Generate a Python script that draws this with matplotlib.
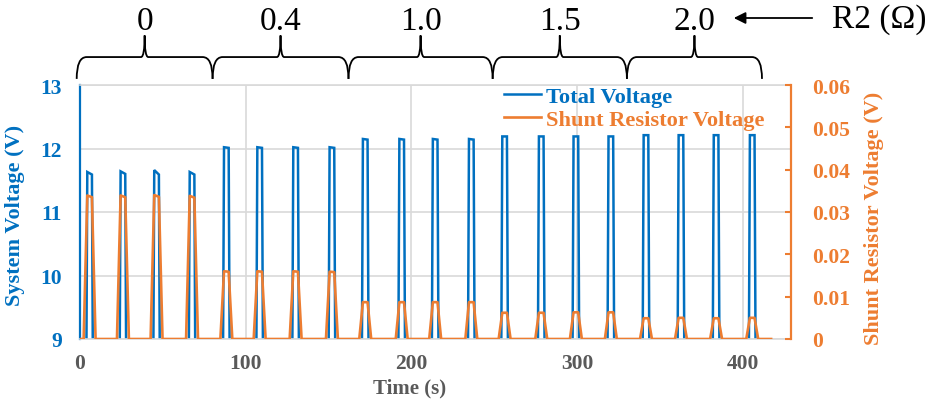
import matplotlib
matplotlib.use("Agg")
import matplotlib.pyplot as plt
from matplotlib.path import Path
from matplotlib.patches import PathPatch, FancyArrowPatch

plt.rcParams['font.family'] = ['Liberation Serif', 'DejaVu Serif']

# ---------------- data ----------------
r2_labels = ["0", "0.4", "1.0", "1.5", "2.0"]
# brace boundaries between R2 groups, in seconds
group_bounds = [-2.0, 80.0, 162.0, 249.0, 330.0, 411.5]

# start time of each pulse (s)
pulse_start = [2.2, 22.3, 42.6, 64.0,
               84.7, 104.8, 126.5, 148.4,
               168.5, 190.5, 210.7, 232.5,
               252.6, 274.7, 295.6, 316.7,
               337.9, 359.0, 380.2, 402.0]
# total (system) voltage at start / end of pulse plateau (V)
total_peak = [11.63, 11.64, 11.66, 11.63,
              12.02, 12.02, 12.02, 12.02,
              12.15, 12.15, 12.15, 12.15,
              12.19, 12.19, 12.19, 12.19,
              12.21, 12.21, 12.21, 12.21]
total_end = [11.59, 11.60, 11.59, 11.59,
             12.01, 12.01, 12.01, 12.01,
             12.14, 12.14, 12.14, 12.14,
             12.19, 12.19, 12.19, 12.19,
             12.21, 12.21, 12.21, 12.21]
total_off = 0.0          # system voltage between pulses (below axis)
# shunt resistor voltage at start / end of plateau (V)
shunt_peak = [0.0339, 0.0339, 0.0340, 0.0338,
              0.0160, 0.0160, 0.0160, 0.0159,
              0.0087, 0.0087, 0.0087, 0.0087,
              0.0062, 0.0062, 0.0063, 0.0063,
              0.0049, 0.0050, 0.0049, 0.0050]
shunt_end = [0.0335, 0.0335, 0.0336, 0.0334,
             0.0159, 0.0159, 0.0159, 0.0158,
             0.0087, 0.0087, 0.0087, 0.0087,
             0.0062, 0.0062, 0.0063, 0.0063,
             0.0049, 0.0050, 0.0049, 0.0050]
sample_step = 2.2        # logger sample interval (s)
plateau_len = 2.8        # duration of pulse plateau (s)
t_end = 417.0

# build sampled waveforms
t, vt, vs = [0.0], [total_off], [0.0]
for s0, tp, te, sp, se in zip(pulse_start, total_peak, total_end, shunt_peak, shunt_end):
    t += [s0, s0 + sample_step, s0 + sample_step + plateau_len, s0 + 2 * sample_step + plateau_len]
    vt += [total_off, tp, te, total_off]
    vs += [0.0, sp, se, 0.0]
t.append(t_end); vt.append(total_off); vs.append(0.0)

BLUE = "#0070C0"
ORANGE = "#ED7D31"
GRAY = "#595959"
GRID = "#D9D9D9"

W, H = 928, 402
fig = plt.figure(figsize=(W / 100, H / 100), dpi=100)
ax = fig.add_axes([80 / W, 62 / H, 711 / W, 254 / H])
ax2 = ax.twinx()

l1, = ax.plot(t, vt, color=BLUE, lw=1.8, label="Total Voltage", solid_joinstyle="miter")
l2, = ax2.plot(t, vs, color=ORANGE, lw=1.9, label="Shunt Resistor Voltage")

ax.set_xlim(0, 429)
ax.set_ylim(9, 13)
ax2.set_ylim(0, 0.06)

ax.set_xticks([0, 100, 200, 300, 400])
ax.set_yticks([9, 10, 11, 12, 13])
ax2.set_yticks([0, 0.01, 0.02, 0.03, 0.04, 0.05, 0.06])
ax2.set_yticklabels(["0", "0.01", "0.02", "0.03", "0.04", "0.05", "0.06"])

ax.grid(True, color=GRID, lw=1.2)
ax.set_axisbelow(True)

for sp in ["top", "bottom"]:
    ax.spines[sp].set_color(GRID)
    ax.spines[sp].set_linewidth(1.2)
ax.spines["left"].set_color(BLUE)
ax.spines["left"].set_linewidth(1.6)
ax.spines["right"].set_visible(False)
for sp in ["top", "bottom", "left"]:
    ax2.spines[sp].set_visible(False)
ax2.spines["right"].set_color(ORANGE)
ax2.spines["right"].set_linewidth(1.6)

TS = 15.5
ax.tick_params(axis="x", length=0, pad=10, labelsize=TS, labelcolor=GRAY)
ax.tick_params(axis="y", length=0, pad=13, labelsize=TS, labelcolor=BLUE)
ax2.tick_params(axis="y", direction="in", length=4, width=1.5, color=ORANGE,
                pad=15, labelsize=TS, labelcolor=ORANGE)
for lab in ax.get_xticklabels() + ax.get_yticklabels() + ax2.get_yticklabels():
    lab.set_fontweight("bold")

ax.set_xlabel("Time (s)", fontsize=15, fontweight="bold", color=GRAY)
ax.xaxis.set_label_coords(0.464, -0.15)
ax.set_ylabel("System Voltage (V)", fontsize=16, fontweight="bold", color=BLUE)
ax.yaxis.set_label_coords(-0.078, 0.49)
ax2.set_ylabel("Shunt Resistor Voltage (V)", fontsize=16, fontweight="bold", color=ORANGE,
               rotation=90)
ax2.yaxis.set_label_coords(1.102, 0.48)

leg = ax2.legend(handles=[l1, l2], loc="upper left", bbox_to_anchor=(0.584, 1.03),
                 frameon=False, prop={"weight": "bold", "size": 16.2},
                 handlelength=1.65, handletextpad=0.2, labelspacing=0.08, borderaxespad=0)
for txt, c in zip(leg.get_texts(), [BLUE, ORANGE]):
    txt.set_color(c)

# ---------------- braces for R2 groups ----------------
trans = ax.get_xaxis_transform()
yb, yh, yt = 1.024, 1.110, 1.195
rx, rt = 6.0, 2.2
for i, lab in enumerate(r2_labels):
    x0, x1 = group_bounds[i], group_bounds[i + 1]
    xm = (x0 + x1) / 2
    verts = [(x0, yb), (x0, yh), (x0 + rx, yh),
             (xm - rt, yh), (xm, yh), (xm, yt),
             (xm, yh), (xm + rt, yh),
             (x1 - rx, yh), (x1, yh), (x1, yb)]
    codes = [Path.MOVETO, Path.CURVE3, Path.CURVE3,
             Path.LINETO, Path.CURVE3, Path.CURVE3,
             Path.CURVE3, Path.CURVE3,
             Path.LINETO, Path.CURVE3, Path.CURVE3]
    patch = PathPatch(Path(verts, codes), transform=trans, fill=False,
                      edgecolor="black", lw=1.3, clip_on=False)
    ax.add_patch(patch)
    ax.text(xm, 1.252, lab, transform=trans, ha="center", va="center",
            fontsize=24, color="black", clip_on=False)

fig.text(0.897, 0.950, "R2 (Ω)", ha="left", va="center", fontsize=24, color="black")
fig.add_artist(FancyArrowPatch(
    (815 / W, 1 - 19 / H), (731 / W, 1 - 19 / H), transform=fig.transFigure,
    arrowstyle="-|>,head_length=7,head_width=3.5", color="black", lw=1.3))

fig.savefig("out.png", dpi=100)
